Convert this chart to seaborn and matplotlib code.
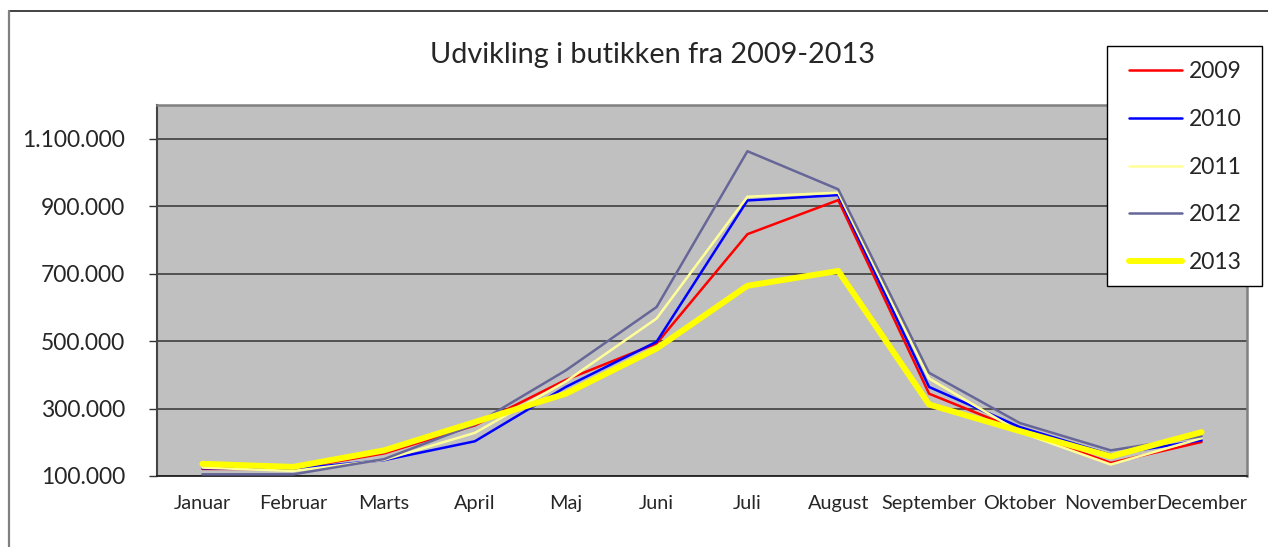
import matplotlib
matplotlib.use("Agg")
import matplotlib.pyplot as plt
from matplotlib.lines import Line2D
from matplotlib.patches import Rectangle
from matplotlib.ticker import FixedLocator
import seaborn as sns
import pandas as pd

# ---- data ----
months = ["Januar", "Februar", "Marts", "April", "Maj", "Juni", "Juli",
          "August", "September", "Oktober", "November", "December"]
years = ["2009", "2010", "2011", "2012", "2013"]
s2009 = [121000, 121000, 167000, 250000, 385000, 493000, 817000, 918000, 344000, 235000, 139000, 201000]
s2010 = [123000, 121000, 147000, 203000, 364000, 498000, 917000, 933000, 364000, 245000, 163000, 206000]
s2011 = [125000, 115000, 148000, 228000, 380000, 567000, 928000, 940000, 389000, 230000, 134000, 212000]
s2012 = [105000, 105000, 150000, 253000, 413000, 601000, 1063000, 950000, 406000, 257000, 176000, 218000]
s2013 = [136000, 127000, 176000, 260000, 344000, 478000, 664000, 708000, 312000, 233000, 158000, 230000]
yticks = [100000, 300000, 500000, 700000, 900000, 1100000]
title = "Udvikling i butikken fra 2009-2013"

series = dict(zip(years, [s2009, s2010, s2011, s2012, s2013]))
colors = {"2009": "#FF0000", "2010": "#0000FF", "2011": "#FFFF99",
          "2012": "#666699", "2013": "#FFFF00"}
widths = {"2009": 1.8, "2010": 1.8, "2011": 1.8, "2012": 1.8, "2013": 4.3}

sns.set_style("white")
plt.rcParams["font.family"] = ["Lato", "DejaVu Sans"]

W, H = 1268, 547
fig = plt.figure(figsize=(W / 100, H / 100), dpi=100)
fig.patch.set_facecolor("white")

L, R, T, B = 157, 1247, 105, 476
ax = fig.add_axes([L / W, 1 - B / H, (R - L) / W, (B - T) / H])
ax.set_facecolor("#C0C0C0")

for yr in years:
    df = pd.DataFrame({"Måned": months, "Værdi": series[yr]})
    sns.lineplot(data=df, x="Måned", y="Værdi", sort=False, color=colors[yr],
                 linewidth=widths[yr], ax=ax, zorder=3)

ax.set_xlim(-0.5, len(months) - 0.5)
ax.set_ylim(100000, 1200000)
ax.set_yticks(yticks)
ax.set_yticklabels([f"{v:,}".replace(",", ".") for v in yticks])
ax.set_xticks(range(len(months)))
ax.set_xticklabels(months)
ax.xaxis.set_minor_locator(FixedLocator([i - 0.5 for i in range(len(months) + 1)]))
ax.tick_params(axis="x", which="major", length=0, pad=14, labelsize=14.3)
ax.tick_params(axis="x", which="minor", length=5, width=1.0, color="#333333", direction="out")
ax.tick_params(axis="y", length=6, width=1.0, color="#333333", direction="out",
               pad=17, labelsize=16.5, left=True)
ax.set_xlabel("")
ax.set_ylabel("")

ax.grid(axis="y", color="#333333", linewidth=1.1, zorder=1)
ax.grid(axis="x", visible=False)
ax.set_axisbelow(True)

for side, col, lw in [("left", "#444444", 1.5), ("top", "#808080", 1.8),
                      ("right", "#808080", 1.8), ("bottom", "#222222", 1.3)]:
    ax.spines[side].set_visible(True)
    ax.spines[side].set_color(col)
    ax.spines[side].set_linewidth(lw)

fig.text(652 / W, 1 - 55 / H, title, ha="center", va="center", fontsize=20.8)

# outer chart border
fig.add_artist(Line2D([9 / W, 1.0], [1 - 11 / H, 1 - 11 / H], color="#222222", linewidth=1.2))
fig.add_artist(Line2D([9 / W, 9 / W], [0.0, 1 - 11 / H], color="#808080", linewidth=1.6))

# legend frame
fig.add_artist(Rectangle((1107 / W, 1 - 286 / H), 155 / W, 240 / H,
                         transform=fig.transFigure, facecolor="white",
                         edgecolor="black", linewidth=1.0, zorder=5))
handles = [Line2D([], [], color=colors[y], linewidth=widths[y]) for y in years]
leg = fig.legend(handles, years, loc="upper left",
                 bbox_to_anchor=(1129 / W, 1 - 61 / H), frameon=False,
                 fontsize=16.5, borderpad=0, borderaxespad=0, handlelength=2.3,
                 handletextpad=0.3, labelspacing=1.17)
leg.set_zorder(6)

fig.savefig("out.png", dpi=100)
